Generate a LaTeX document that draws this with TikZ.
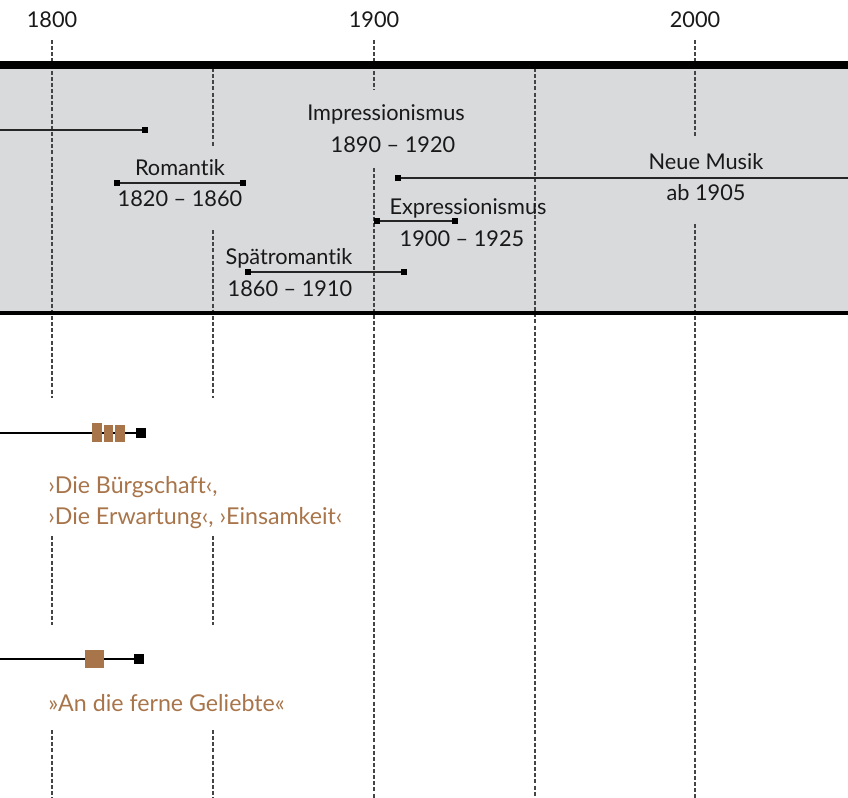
\documentclass[tikz,border=0pt]{standalone}
\usepackage{fontspec}
\setmainfont{Lato}[Ligatures=NoCommon]
\usepackage{xcolor}
\usetikzlibrary{positioning,calc}
\definecolor{bandgray}{HTML}{D9DADC}
\definecolor{brownish}{HTML}{A8744A}
\definecolor{inkgray}{HTML}{444444}

\begin{document}
\begin{tikzpicture}[x=0.75pt, y=-0.75pt, font=\fontsize{16.3}{19}\selectfont]
  \tikzstyle{yearlabel}=[text=black!90, inner sep=0pt]
  \tikzstyle{period}=[text=black!90, inner sep=0pt]
  \tikzstyle{work}=[text=brownish, inner sep=0pt, anchor=west, font=\fontsize{17.4}{20}\selectfont]
  \tikzstyle{grid}=[draw=inkgray, line width=0.9pt, dash pattern=on 3pt off 1.6pt]
  \tikzstyle{bar}=[draw=black!85, line width=0.9pt]
  \tikzstyle{tip}=[rectangle, fill=black, inner sep=0pt, minimum size=4pt]
  \tikzstyle{lifeline}=[draw=black, line width=1.6pt]
  \tikzstyle{endmark}=[rectangle, fill=black, inner sep=0pt, minimum size=7.5pt]
  \tikzstyle{piece}=[rectangle, fill=brownish, inner sep=0pt, minimum width=7.2pt, minimum height=13pt]

  \useasboundingbox (0,0) rectangle (848,798);

  % Epochen-Band
  \fill[bandgray] (0,65) rectangle (848,312);

  % Raster
  \draw[grid] (52,40) -- (52,398);
  \draw[grid] (52,536) -- (52,625);
  \draw[grid] (52,730) -- (52,798);
  \draw[grid] (213,68) -- (213,147);
  \draw[grid] (213,230) -- (213,398);
  \draw[grid] (213,536) -- (213,625);
  \draw[grid] (213,730) -- (213,798);
  \draw[grid] (374,40) -- (374,90);
  \draw[grid] (374,168) -- (374,798);
  \draw[grid] (535,68) -- (535,798);
  \draw[grid] (695,40) -- (695,138);
  \draw[grid] (695,224) -- (695,798);

  \draw[line width=6pt] (0,65) -- (848,65);
  \draw[line width=3pt] (0,313) -- (848,313);

  % Jahreszahlen
  \node[yearlabel] (y1800) at (52,20) {1800};
  \node[yearlabel] (y1900) at (374,20) {1900};
  \node[yearlabel] (y2000) at (695,20) {2000};

  % Epochen
  \coordinate (klassik-a) at (0,130);
  \node[tip] (klassik-b) at (145,130) {};
  \draw[bar] (klassik-a) -- (klassik-b);

  \node[tip] (rom-a) at (117,183) {};
  \node[tip] (rom-b) at (243,183) {};
  \draw[bar] (rom-a) -- (rom-b);
  \node[period] (rom) at (180,168) {Romantik};
  \node[period] (rom-y) at (180,199) {1820 – 1860};

  \node[period] (imp) at (386,114) {Impressionismus};
  \node[period] (imp-y) at (393,145) {1890 – 1920};

  \node[tip] (neu-a) at (398,178) {};
  \coordinate (neu-b) at (848,178);
  \draw[bar] (neu-a) -- (neu-b);
  \node[period] (neu) at (706,162) {Neue Musik};
  \node[period] (neu-y) at (706,193) {ab 1905};

  \node[tip] (exp-a) at (377,221) {};
  \node[tip] (exp-b) at (455,221) {};
  \draw[bar] (exp-a) -- (exp-b);
  \node[period] (exp) at (468,208) {Expressionismus};
  \node[period] (exp-y) at (462,239) {1900 – 1925};

  \node[tip] (spaet-a) at (248,272) {};
  \node[tip] (spaet-b) at (404,272) {};
  \draw[bar] (spaet-a) -- (spaet-b);
  \node[period] (spaet) at (289,258) {Spätromantik};
  \node[period] (spaet-y) at (290,289) {1860 – 1910};

  % Lebenslinie 1
  \coordinate (life1-a) at (0,433);
  \node[endmark] (life1-b) at (141,433) {};
  \draw[lifeline] (life1-a) -- (life1-b);
  \node[piece, minimum height=14pt] (w1) at (97,432.5) {};
  \node[piece] (w2) at (108.5,433.5) {};
  \node[piece] (w3) at (120,433.5) {};
  \node[work] (w1-t) at (48,487) {›Die Bürgschaft‹,};
  \node[work] (w2-t) at (48,518) {›Die Erwartung‹, ›Einsamkeit‹};

  % Lebenslinie 2
  \coordinate (life2-a) at (0,659);
  \node[endmark] (life2-b) at (139,659) {};
  \draw[lifeline] (life2-a) -- (life2-b);
  \node[piece, minimum width=14pt, minimum height=14pt] (w4) at (94.5,659) {};
  \node[work] (w4-t) at (48,703) {»An die ferne Geliebte«};
\end{tikzpicture}
\end{document}
